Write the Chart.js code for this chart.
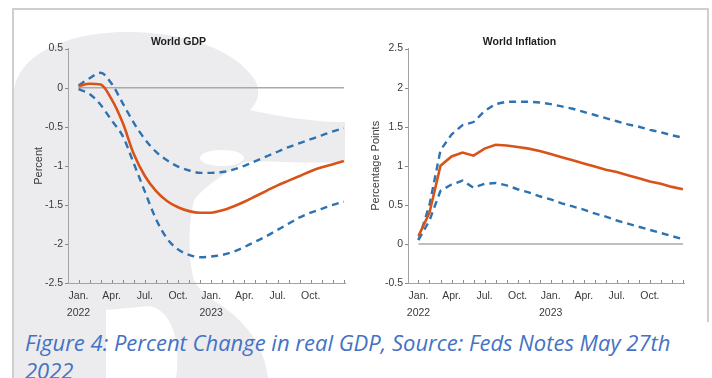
<!DOCTYPE html>
<html>
<head>
<meta charset="utf-8">
<script src="https://cdn.jsdelivr.net/npm/chart.js@4.4.1/dist/chart.umd.min.js"></script>
<style>
  body { margin: 0; width: 712px; height: 378px; overflow: hidden; background: #fff; position: relative; }
  #mark { position: absolute; left: 0; top: 0; }
  .edge { position: absolute; background: #cfcfcf; }
  canvas { position: absolute; }
  #gdp { left: 12px; top: 8px; }
  #infl { left: 355px; top: 8px; }
  #caption {
    position: absolute; left: 25px; top: 328px;
    font-family: "Open Sans", sans-serif; font-style: italic; font-size: 22px;
    line-height: 28px; color: #4472c4; white-space: nowrap;
  }
</style>
</head>
<body>
<svg id="mark" width="712" height="378">
  <path fill="#ececef" d="M14 95 C14 58 62 30 135 32 C190 34 235 50 255 80 C262 94 256 104 250 110
    C285 118 320 122 345 122 L345 162 C300 164 262 160 244 162 C228 172 205 185 194 200
    C188 225 188 260 194 280 C200 292 210 298 216 302 C245 320 264 345 268 378 L14 378 Z"/>
  <ellipse fill="#fff" cx="222" cy="158" rx="22" ry="8"/>
  <path fill="#fff" d="M106 310 L150 306 C176 312 180 350 176 378 L106 378 Z"/>
</svg>
<div class="edge" style="left:12px; top:8px; width:697px; height:1.5px;"></div>
<div class="edge" style="left:12px; top:8px; width:2px; height:370px;"></div>
<div class="edge" style="left:707px; top:8px; width:1.5px; height:314px;"></div>
<canvas id="gdp" width="343" height="314"></canvas>
<canvas id="infl" width="345" height="314"></canvas>
<div id="caption">Figure 4: Percent Change in real GDP, Source: Feds Notes May 27th<br>2022</div>
<script>
// months Jan 2022 .. Jan 2024, plotted by index
const months = ["2022-01", "2022-02", "2022-03", "2022-04", "2022-05", "2022-06", "2022-07",
  "2022-08", "2022-09", "2022-10", "2022-11", "2022-12", "2023-01", "2023-02", "2023-03",
  "2023-04", "2023-05", "2023-06", "2023-07", "2023-08", "2023-09", "2023-10", "2023-11",
  "2023-12", "2024-01"];

const quarterTicks = [0, 3, 6, 9, 12, 15, 18, 21];
const quarterLabels = [["Jan.", "2022"], "Apr.", "Jul.", "Oct.", ["Jan.", "2023"], "Apr.", "Jul.", "Oct."];

const gdpMid = [0.02, 0.05, 0.04, -0.15, -0.45, -0.85, -1.13, -1.32, -1.45, -1.53, -1.58, -1.60,
  -1.60, -1.57, -1.52, -1.46, -1.39, -1.32, -1.25, -1.19, -1.13, -1.07, -1.02, -0.98, -0.94];
const gdpHigh = [0.03, 0.12, 0.19, 0.05, -0.20, -0.45, -0.66, -0.82, -0.93, -1.01, -1.06, -1.09,
  -1.09, -1.08, -1.05, -1.00, -0.94, -0.88, -0.82, -0.76, -0.71, -0.66, -0.61, -0.56, -0.52];
const gdpLow = [-0.02, -0.08, -0.22, -0.42, -0.62, -0.97, -1.33, -1.68, -1.93, -2.07, -2.14, -2.17,
  -2.16, -2.14, -2.10, -2.04, -1.97, -1.90, -1.82, -1.74, -1.66, -1.60, -1.55, -1.50, -1.46];

const inflMid = [0.10, 0.40, 1.00, 1.12, 1.17, 1.13, 1.22, 1.27, 1.26, 1.24, 1.22, 1.19,
  1.15, 1.11, 1.07, 1.03, 0.99, 0.95, 0.92, 0.88, 0.84, 0.80, 0.77, 0.73, 0.70];
const inflHigh = [0.05, 0.50, 1.20, 1.40, 1.52, 1.56, 1.70, 1.79, 1.82, 1.82, 1.82, 1.81,
  1.79, 1.76, 1.73, 1.69, 1.65, 1.61, 1.57, 1.53, 1.50, 1.46, 1.43, 1.39, 1.36];
const inflLow = [0.05, 0.30, 0.68, 0.76, 0.81, 0.72, 0.77, 0.78, 0.75, 0.70, 0.66, 0.61,
  0.57, 0.52, 0.48, 0.44, 0.39, 0.35, 0.30, 0.26, 0.22, 0.18, 0.14, 0.10, 0.06];

const RED = "#d95319";
const BLUE = "#2e72b2";
const FONT = "'Liberation Sans', Arial, sans-serif";

function points(values) {
  return values.map((v, i) => ({ x: i, y: v }));
}

// MATLAB-ish ticks: x ticks point up into the plot, y ticks stick out left
const tickMarks = {
  id: "tickMarks",
  afterDraw(chart) {
    const ctx = chart.ctx;
    const xs = chart.scales.x;
    const ys = chart.scales.y;
    ctx.save();
    ctx.strokeStyle = "#8a8a8a";
    ctx.lineWidth = 1;
    ctx.beginPath();
    xs.ticks.forEach((t) => {
      const px = Math.round(xs.getPixelForValue(t.value)) + 0.5;
      ctx.moveTo(px, xs.top);
      ctx.lineTo(px, xs.top - 3);
    });
    ys.ticks.forEach((t) => {
      const py = Math.round(ys.getPixelForValue(t.value)) + 0.5;
      ctx.moveTo(ys.right, py);
      ctx.lineTo(ys.right - 3, py);
    });
    ctx.stroke();
    ctx.restore();
  },
};

function makeChart(id, title, yTitle, mid, high, low, yMin, yMax, smooth, yWidth, padRight, yTitlePad) {
  const line = {
    pointRadius: 0,
    fill: false,
    cubicInterpolationMode: smooth ? "monotone" : "default",
    tension: 0,
  };
  return new Chart(document.getElementById(id), {
    type: "line",
    data: {
      datasets: [
        Object.assign({ data: points(mid), borderColor: RED, borderWidth: 2.6, order: 1 }, line),
        Object.assign({ data: points(high), borderColor: BLUE, borderWidth: 2.4, borderDash: [7, 5], order: 2 }, line),
        Object.assign({ data: points(low), borderColor: BLUE, borderWidth: 2.4, borderDash: [7, 5], order: 2 }, line),
        Object.assign({ data: points(months.map(() => 0)), borderColor: "#a9a9a9", borderWidth: 1.5, order: 3 }, line),
      ],
    },
    options: {
      responsive: false,
      animation: false,
      events: [],
      layout: { padding: { left: 0, right: padRight, top: 0, bottom: 0 } },
      plugins: {
        legend: { display: false },
        tooltip: { enabled: false },
        title: {
          display: true,
          text: title,
          color: "#1e1e1e",
          font: { family: FONT, size: 10.5, weight: "bold" },
          padding: { top: 28, bottom: 0 },
        },
      },
      scales: {
        x: {
          type: "linear",
          min: -0.95,
          max: 24.1,
          afterBuildTicks: (scale) => {
            scale.ticks = months.map((m, i) => ({ value: i }));
          },
          afterFit: (scale) => {
            scale.height = 39;
          },
          grid: { display: false, drawTicks: false },
          border: { display: true, color: "#a3a3a3", width: 1 },
          ticks: {
            autoSkip: false,
            maxRotation: 0,
            padding: 5,
            color: "#3a3a3a",
            font: { family: FONT, size: 10.5, lineHeight: 1.6 },
            callback: (v) => {
              const k = quarterTicks.indexOf(v);
              return k >= 0 ? quarterLabels[k] : "";
            },
          },
        },
        y: {
          min: yMin,
          max: yMax,
          afterFit: (scale) => {
            scale.width = yWidth;
          },
          grid: { display: false, drawTicks: false },
          border: { display: true, color: "#a3a3a3", width: 1 },
          ticks: {
            stepSize: 0.5,
            padding: 5,
            color: "#3a3a3a",
            font: { family: FONT, size: 10.5 },
            callback: (v) => String(v),
          },
          title: {
            display: true,
            text: yTitle,
            color: "#3a3a3a",
            font: { family: FONT, size: 11 },
            padding: { top: yTitlePad, bottom: 0 },
          },
        },
      },
    },
    plugins: [tickMarks],
  });
}

makeChart("gdp", "World GDP", "Percent", gdpMid, gdpHigh, gdpLow, -2.5, 0.5, true, 56, 10, 20);
makeChart("infl", "World Inflation", "Percentage Points", inflMid, inflHigh, inflLow, -0.5, 2.5, false, 53, 16, 14);
</script>
</body>
</html>
